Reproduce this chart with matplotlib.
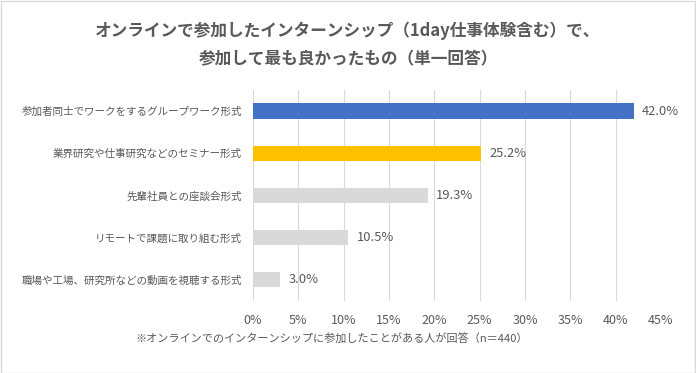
import matplotlib.pyplot as plt
from matplotlib.patches import Rectangle

plt.rcParams['font.family'] = ['Noto Sans CJK JP', 'DejaVu Sans']

categories = [
    "参加者同士でワークをするグループワーク形式",
    "業界研究や仕事研究などのセミナー形式",
    "先輩社員との座談会形式",
    "リモートで課題に取り組む形式",
    "職場や工場、研究所などの動画を視聴する形式",
]
values = [42.0, 25.2, 19.3, 10.5, 3.0]
colors = ["#4472C4", "#FFC000", "#D9D9D9", "#D9D9D9", "#D9D9D9"]
xticks = [0, 5, 10, 15, 20, 25, 30, 35, 40, 45]
title = "オンラインで参加したインターンシップ（1day仕事体験含む）で、\n参加して最も良かったもの（単一回答）"
note = "※オンラインでのインターンシップに参加したことがある人が回答（n＝440）"

text_color = "#595959"

fig = plt.figure(figsize=(6.96, 3.73), dpi=100)
fig.patches.append(Rectangle((0.001, 0.001), 0.997, 0.996, transform=fig.transFigure,
                             fill=False, edgecolor="#D9D9D9", linewidth=1))
ax = fig.add_axes([0.3635, 0.193, 0.5862, 0.566])

y = list(range(len(categories)))
ax.barh(y, values, height=0.36, color=colors, zorder=3)
ax.set_ylim(len(categories) - 0.5, -0.5)
ax.set_xlim(0, 45)
ax.set_xticks(xticks)
ax.set_xticklabels([f"{t}%" for t in xticks], color=text_color, fontsize=9)
ax.set_yticks(y)
ax.set_yticklabels(categories, color=text_color, fontsize=7.6)
ax.tick_params(axis='both', length=0, pad=9)
ax.tick_params(axis='y', pad=8)
ax.grid(axis='x', color="#D9D9D9", linewidth=0.8, zorder=0)
for s in ax.spines.values():
    s.set_visible(False)

for yi, v in zip(y, values):
    ax.annotate(f"{v:.1f}%", (v, yi), xytext=(6, 0), textcoords='offset points',
                va='center', ha='left', fontsize=9.3, color=text_color)

fig.text(0.5, 0.88, title, ha='center', va='center', fontsize=12, fontweight='bold',
         color=text_color, linespacing=1.75)
fig.text(0.194, 0.09, note, ha='left', va='center', fontsize=8, color=text_color)

fig.savefig("out.png", dpi=100)
